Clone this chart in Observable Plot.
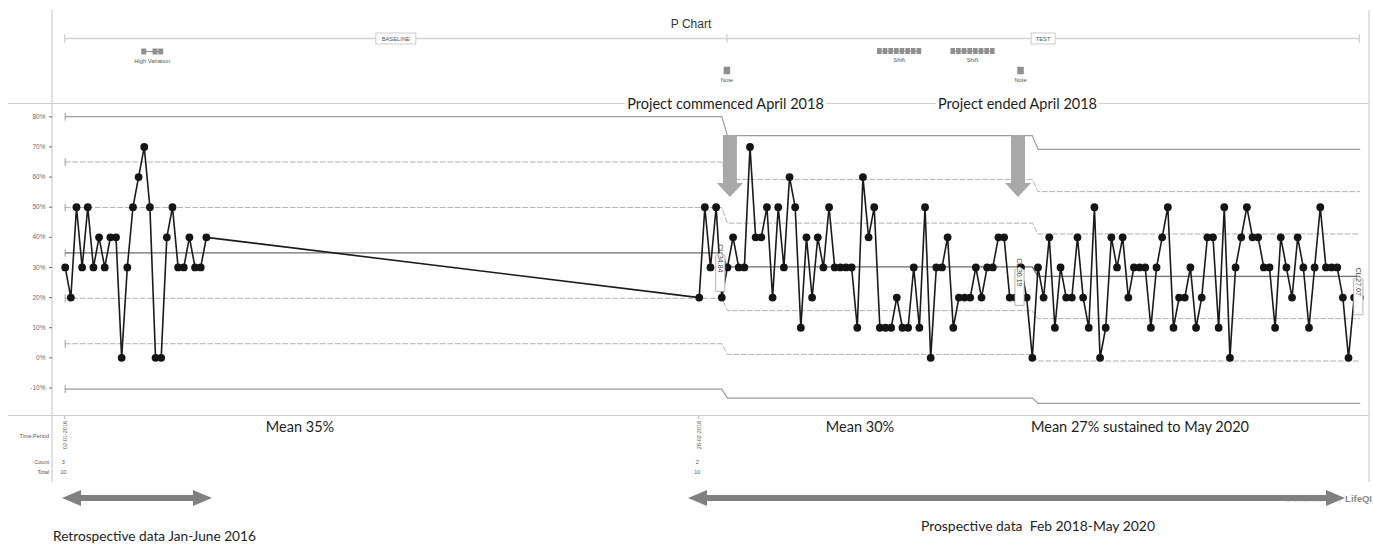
<!DOCTYPE html>
<html><head><meta charset="utf-8">
<script src="https://cdn.jsdelivr.net/npm/d3@7"></script>
<script src="https://cdn.jsdelivr.net/npm/@observablehq/plot@0.6"></script>
<style>
html,body{margin:0;padding:0;background:#fff;}
#chart{width:1373px;height:548px;overflow:hidden;}
</style></head><body><div id="chart"></div>
<script>
// ---------- data (weekly proportions, %) ----------
const baselineStart = "2016-01-02";
const prospectiveStart = "2018-02-26";
const baselinePct = [30,20,50,30,50,30,40,30,40,40,0,30,50,60,70,50,0,0,40,50,30,30,40,30,30,40];
const prospectivePct = [
 20,50,30,50,20,30,40,30,30,70,
 40,40,50,20,50,30,60,50,10,40,
 20,40,30,50,30,30,30,30,10,60,
 40,50,10,10,10,20,10,10,30,10,
 50,0,30,30,40,10,20,20,20,30,
 20,30,30,40,40,20,20,30,20,0,
 30,20,40,10,30,20,20,40,20,10,
 50,0,10,40,30,40,20,30,30,30,
 10,30,40,50,10,20,20,30,10,20,
 40,40,10,50,0,30,40,50,40,40,
 30,30,10,40,30,20,40,30,10,30,
 50,30,30,30,20,0,20,20];

// phases (indices into combined series)
const phaseFirst = [0, 31, 86];
const phaseLast = [30, 85, 143];
const phaseLabelAt = [30, 83, 143];
const phaseCL = [34.84, 30.19, 27.07];
const ucl3 = [80.04, 73.75, 69.21];
const ucl2 = [65.0, 59.23, 55.17];
const ucl1 = [49.92, 44.71, 41.12];
const lcl1 = [19.76, 15.67, 13.02];
const lcl2 = [4.69, 1.15, -1.03];
const lcl3 = [-10.39, -13.37, -15.09];

const periodNames = ["BASELINE", "TEST"];
const periodBounds = [[0, 31], [31, 143]];
const highVariationIdx = [14, 16, 17];
const shiftRuns = [[58, 65], [71, 78]];
const noteIdx = [31, 83];
const yTicks = [-10, 0, 10, 20, 30, 40, 50, 60, 70, 80];
const tableCols = [
  {idx: 0, period: "02-01-2016", count: "3", total: "10"},
  {idx: 26, period: "26-02-2018", count: "2", total: "10"}
];
const meanNotes = [
  {text: "Mean 35%", x: 300, anchor: "middle"},
  {text: "Mean 30%", x: 860, anchor: "middle"},
  {text: "Mean 27% sustained to May 2020", x: 1031, anchor: "start"}
];

// ---------- build ----------
const data = [
  ...baselinePct.map((v, i) => ({date: d3.utcDay.offset(new Date(baselineStart), 7 * i), pct: v})),
  ...prospectivePct.map((v, i) => ({date: d3.utcDay.offset(new Date(prospectiveStart), 7 * i), pct: v}))
];
const levels = [
  {key: "ucl3", vals: ucl3, kind: "limit"},
  {key: "ucl2", vals: ucl2, kind: "sigma"},
  {key: "ucl1", vals: ucl1, kind: "sigma"},
  {key: "cl", vals: phaseCL, kind: "cl"},
  {key: "lcl1", vals: lcl1, kind: "sigma"},
  {key: "lcl2", vals: lcl2, kind: "sigma"},
  {key: "lcl3", vals: lcl3, kind: "limit"}
];
const limitRows = levels.flatMap(l => phaseCL.flatMap((_, p) => [
  {level: l.key, kind: l.kind, date: data[phaseFirst[p]].date, v: l.vals[p]},
  {level: l.key, kind: l.kind, date: data[phaseLast[p]].date, v: l.vals[p]}
]));
const capRows = levels.map(l => ({date: data[0].date, v: l.vals[0]}));
const capSymbol = {draw(ctx) { ctx.moveTo(0, -4); ctx.lineTo(0, 4); }};

const chart = Plot.plot({
  width: 1373, height: 548,
  marginLeft: 52, marginRight: 4, marginTop: 0, marginBottom: 0,
  style: {fontFamily: "'Liberation Sans', Arial, sans-serif", background: "white", overflow: "visible"},
  x: {type: "utc", domain: [data[0].date, data[data.length - 1].date], range: [64.7, 1359.3], axis: null},
  y: {domain: [-10, 80], range: [387.5, 116.3]},
  marks: [
    Plot.axisY({ticks: yTicks, tickFormat: d => d + "%", tickSize: 3, tickPadding: 4, fontSize: 6.5, color: "#6a6a6a"}),
    Plot.line(limitRows.filter(d => d.kind === "sigma"), {x: "date", y: "v", z: "level", stroke: "#b2b2b2", strokeWidth: 1, strokeDasharray: "5,2.5"}),
    Plot.line(limitRows.filter(d => d.kind === "limit"), {x: "date", y: "v", z: "level", stroke: "#9c9c9c", strokeWidth: 1.2}),
    Plot.line(limitRows.filter(d => d.kind === "cl"), {x: "date", y: "v", z: "level", stroke: "#6e6e6e", strokeWidth: 1.3}),
    Plot.dot(capRows, {x: "date", y: "v", symbol: capSymbol, stroke: "#9c9c9c", strokeWidth: 1, r: 4}),
    Plot.line(data, {x: "date", y: "pct", stroke: "#1a1a1a", strokeWidth: 1.6}),
    Plot.dot(data, {x: "date", y: "pct", r: 3.9, fill: "#141414", stroke: "none"})
  ]
});
document.getElementById("chart").appendChild(chart);

const X = d => chart.scale("x").apply(d);
const Y = v => chart.scale("y").apply(v);
const svg = d3.select(chart);
const FONT = "'Liberation Sans', Arial, sans-serif";
const AFONT = "Lato, 'Open Sans', sans-serif";

// borders behind everything
const bg = svg.insert("g", ":first-child").attr("stroke", "#cfcfcf").attr("stroke-width", 1.2);
bg.append("line").attr("x1", 52).attr("x2", 52).attr("y1", 10).attr("y2", 482);
bg.append("line").attr("x1", 1369).attr("x2", 1369).attr("y1", 10).attr("y2", 482);
bg.append("line").attr("x1", 8).attr("x2", 1369).attr("y1", 103.5).attr("y2", 103.5);
bg.append("line").attr("x1", 8).attr("x2", 1369).attr("y1", 415.5).attr("y2", 415.5);

const g = svg.append("g").attr("font-family", FONT);

// CL labels
phaseCL.forEach((cl, p) => {
  const x = X(data[phaseLabelAt[p]].date) - 1, y = Y(cl);
  const lb = g.append("g").attr("transform", `translate(${x},${y})`);
  lb.append("path").attr("d", "M0,0.5 L4.6,3.5 L4.6,39 L-4.6,39 L-4.6,3.5 Z")
    .attr("fill", "white").attr("stroke", "#a0a0a0").attr("stroke-width", 0.8);
  lb.append("text").attr("transform", "translate(0,6) rotate(90)").attr("dy", "0.35em")
    .attr("font-size", 7).attr("fill", "#444").text("CL " + cl.toFixed(2));
});

// top panel
g.append("text").attr("x", 691).attr("y", 28).attr("text-anchor", "middle").attr("font-size", 12).attr("fill", "#333").text("P Chart");
const tl = g.append("g").attr("stroke", "#d2d2d2").attr("stroke-width", 1.3);
tl.append("line").attr("x1", X(data[0].date)).attr("x2", X(data[143].date)).attr("y1", 38.5).attr("y2", 38.5);
[0, 31, 143].forEach(i => tl.append("line").attr("x1", X(data[i].date)).attr("x2", X(data[i].date)).attr("y1", 34).attr("y2", 43));
periodNames.forEach((name, k) => {
  const cx = (X(data[periodBounds[k][0]].date) + X(data[periodBounds[k][1]].date)) / 2;
  const w = name.length * 4 + 8;
  g.append("rect").attr("x", cx - w / 2).attr("y", 33).attr("width", w).attr("height", 11)
    .attr("fill", "white").attr("stroke", "#cccccc").attr("stroke-width", 1);
  g.append("text").attr("x", cx).attr("y", 40.8).attr("text-anchor", "middle").attr("font-size", 5.8).attr("fill", "#555").text(name);
});
function marker(idxs, y, w, h, label, ly) {
  const xs = idxs.map(i => X(data[i].date));
  g.append("line").attr("x1", d3.min(xs)).attr("x2", d3.max(xs)).attr("y1", y).attr("y2", y).attr("stroke", "#8f8f8f").attr("stroke-width", 1);
  xs.forEach(x => g.append("rect").attr("x", x - w / 2).attr("y", y - h / 2).attr("width", w).attr("height", h).attr("fill", "#8f8f8f"));
  g.append("text").attr("x", (d3.min(xs) + d3.max(xs)) / 2).attr("y", ly).attr("text-anchor", "middle").attr("font-size", 5.8).attr("fill", "#555").text(label);
}
marker(highVariationIdx, 51.5, 5, 6, "High Variation", 63);
shiftRuns.forEach(([a, b]) => marker(d3.range(a, b + 1), 51, 4.6, 6, "Shift", 62));
noteIdx.forEach(i => marker([i], 70.5, 6.5, 7.5, "Note", 82));

// annotation texts
function note(text, cx, y, anchor = "middle", size = 14.5) {
  return g.append("text").attr("x", cx).attr("y", y).attr("text-anchor", anchor)
    .attr("font-family", AFONT).attr("font-size", size).attr("fill", "#1e1e1e").text(text);
}
[["Project commenced April 2018", 725.5], ["Project ended April 2018", 1017.5]].forEach(([t, cx]) => {
  const el = note(t, cx, 109);
  const bb = el.node().getBBox();
  g.insert("rect", () => el.node()).attr("x", bb.x - 2).attr("y", bb.y).attr("width", bb.width + 4).attr("height", bb.height).attr("fill", "white");
});
// down arrows
function downArrow(cx) {
  g.append("path").attr("d", `M${cx - 7},135 L${cx + 7},135 L${cx + 7},183 L${cx + 13},183 L${cx},197 L${cx - 13},183 L${cx - 7},183 Z`).attr("fill", "#a8a8a8");
}
downArrow(X(data[31].date) + 3);
downArrow(X(data[83].date) - 2.5);

meanNotes.forEach(m => note(m.text, m.x, 432, m.anchor));

// table
const tb = g.append("g").attr("font-size", 5.5).attr("fill", "#555");
[["Time Period", 438], ["Count", 463.5], ["Total", 473.5]].forEach(([t, y]) =>
  tb.append("text").attr("x", 49).attr("y", y).attr("text-anchor", "end").text(t));
tableCols.forEach(c => {
  const x = X(data[c.idx].date);
  g.append("line").attr("x1", x).attr("x2", x).attr("y1", 416).attr("y2", 419).attr("stroke", "#bbb");
  tb.append("text").attr("transform", `translate(${x + 2},421) rotate(-90)`).attr("text-anchor", "end").text(c.period);
  tb.append("text").attr("x", x - 1.5).attr("y", 463.5).text(c.count);
  tb.append("text").attr("x", x - 1.5).attr("y", 473.5).text(c.total);
});

// watermark
const wm = g.append("text").attr("x", 1372).attr("y", 501.5).attr("text-anchor", "end").attr("font-size", 9.5);
wm.append("tspan").attr("fill", "#e2e2e2").text("Generated by ");
wm.append("tspan").attr("fill", "#8a8a8a").attr("font-weight", "bold").text("LifeQI");

// double arrows
function dblArrow(x1, x2, y) {
  const h = 19;
  g.append("path").attr("d", `M${x1},${y} L${x1 + h},${y - 8} L${x1 + h},${y - 3} L${x2 - h},${y - 3} L${x2 - h},${y - 8} L${x2},${y} L${x2 - h},${y + 8} L${x2 - h},${y + 3} L${x1 + h},${y + 3} L${x1 + h},${y + 8} Z`).attr("fill", "#808080");
}
dblArrow(62, 212, 498);
dblArrow(688, 1345, 498);

note("Retrospective data Jan-June 2016", 53, 541, "start", 13.7);
note("Prospective data\u00a0 Feb 2018-May 2020", 921, 531, "start", 13.9);
</script>
</body></html>
